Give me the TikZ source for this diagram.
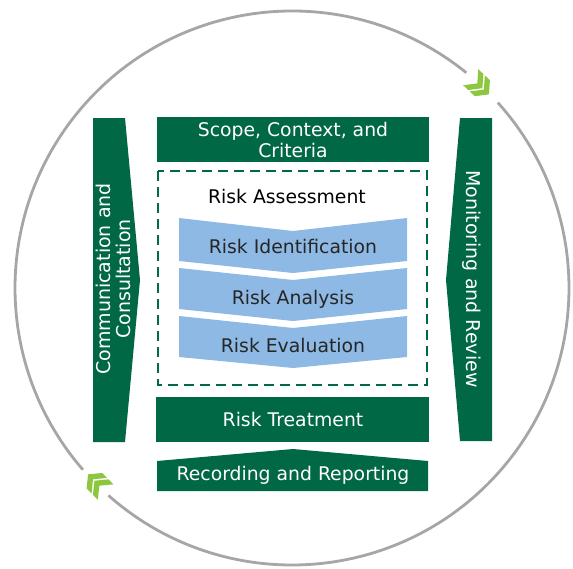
\documentclass[tikz,border=0pt]{standalone}
\usepackage{fontspec}
\setmainfont{DejaVu Sans}
\definecolor{riskgreen}{RGB}{0,104,68}
\definecolor{riskblue}{RGB}{141,185,228}
\definecolor{arrowlime}{RGB}{141,198,63}
\definecolor{ringgray}{RGB}{166,166,166}
\tikzset{
  bar/.style={fill=riskgreen},
  stage/.style={fill=riskblue},
  boxtext/.style={text=white, font=\fontsize{18.8}{21}\selectfont, align=center},
  stagetext/.style={text=black!85, font=\fontsize{18.8}{21}\selectfont, anchor=base},
  sidetext/.style={text=white, font=\fontsize{19}{20}\selectfont, align=center}
}
\begin{document}
\begin{tikzpicture}[x=1pt,y=-1pt]
\useasboundingbox (0,0) rectangle (573,568);
\coordinate (centre) at (292,288);
\draw [ringgray, line width=2.8pt] (centre) ++(-51:277) arc[start angle=-51, end angle=-221, radius=277];
\draw [ringgray, line width=2.8pt] (centre) ++(-228.5:277) arc[start angle=-228.5, end angle=-402, radius=277];
\foreach \ang in {46.8,224.7}{
\begin{scope}[shift={(centre)}, rotate=\ang, shift={(276,0)}]
\fill [arrowlime] (-11,-5) -- (-11,2) -- (0,11) -- (11,2) -- (11,-5) -- (0,4) -- cycle;
\fill [arrowlime] (-11,-14) -- (-11,-7) -- (0,2) -- (11,-7) -- (11,-14) -- (0,-5) -- cycle;
\end{scope}}
\fill [bar] (93,118) -- (125,118) -- (140,280) -- (125,442) -- (93,442) -- cycle;
\fill [bar] (460,118) -- (492,118) -- (492,441) -- (460,441) -- (446,280) -- cycle;
\fill [bar] (157,117) rectangle (429,162);
\draw [riskgreen, line width=2pt, dash pattern=on 10pt off 6pt] (158,171) rectangle (427,385);
\fill [stage] (179,218) -- (293,231) -- (407,218) -- (407,261) -- (293,273) -- (179,261) -- cycle;
\fill [stage] (179,268) -- (293,280) -- (407,268) -- (407,309) -- (293,321) -- (179,309) -- cycle;
\fill [stage] (179,316) -- (293,328) -- (407,316) -- (407,357) -- (293,368) -- (179,357) -- cycle;
\fill [bar] (156,397) rectangle (429,442);
\fill [bar] (157,461) -- (293,449) -- (428,461) -- (428,491) -- (157,491) -- cycle;
\node [boxtext] (scope) at (293,140) {Scope, Context, and\\Criteria};
\node [stagetext, text=black] (assess) at (287,203) {Risk Assessment};
\node [stagetext] (ident) at (293,253) {Risk Identification};
\node [stagetext] (analysis) at (293,304) {Risk Analysis};
\node [stagetext] (evaluation) at (293,352) {Risk Evaluation};
\node [boxtext, anchor=base] (treatment) at (293,426) {Risk Treatment};
\node [boxtext, anchor=base] (recording) at (293,480) {Recording and Reporting};
\node [sidetext, rotate=90] (comms) at (113,279) {Communication and\\Consultation};
\node [sidetext, rotate=-90] (monitor) at (472,279) {Monitoring and Review};
\end{tikzpicture}
\end{document}
